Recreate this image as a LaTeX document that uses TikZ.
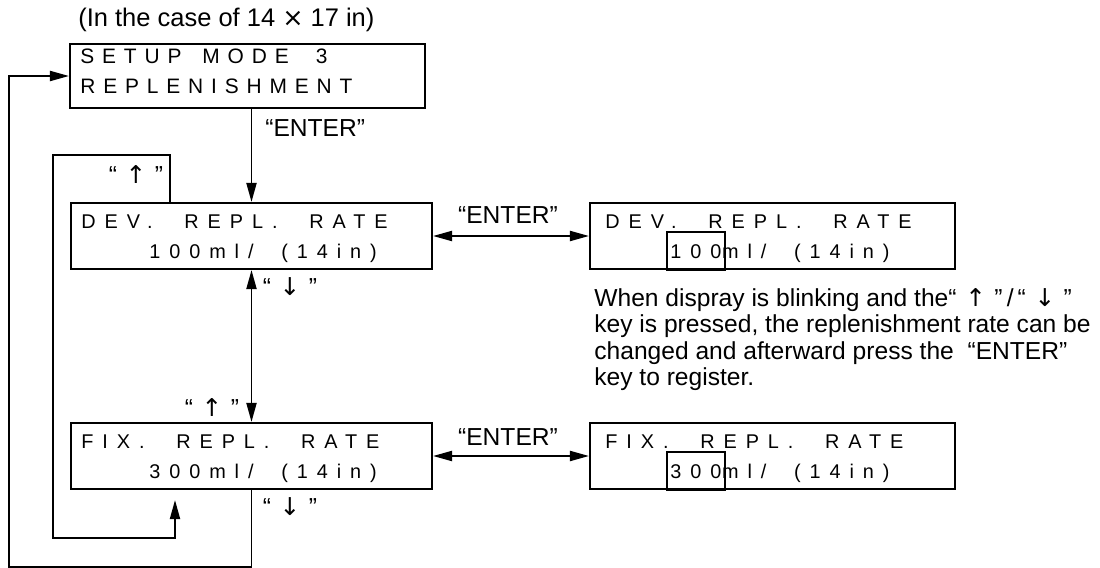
\documentclass[tikz,border=0pt]{standalone}
\usepackage{fontspec}
\setmainfont{Liberation Sans}
\newfontfamily\setupfont[LetterSpace=37.6]{Liberation Sans}
\newfontfamily\lcdfont[LetterSpace=45]{Liberation Sans}
\newfontfamily\arrowfont{DejaVu Sans}
\newcommand\upkey{“\hspace{0.35em}{\arrowfont ↑}\hspace{0.35em}”}
\newcommand\downkey{“\hspace{0.35em}{\arrowfont ↓}\hspace{0.35em}”}
\newcommand\wgap[1]{\hspace{#1em}}
\usetikzlibrary{arrows.meta}

\tikzset{
	lcdbox/.style={draw,line width=1.2pt,inner sep=0,minimum height=1.32cm},
	lcd/.style={font=\lcdfont\fontsize{11.3}{12}\selectfont,inner sep=0,anchor=base west},
	big lcd/.style={font=\setupfont\fontsize{11.9}{13}\selectfont,inner sep=0,anchor=base west},
	keylabel/.style={font=\fontsize{14}{15}\selectfont,inner sep=0},
	link/.style={line width=1.1pt,-{Triangle[length=0.38cm,width=0.2cm]}},
	both/.style={line width=1.1pt,{Triangle[length=0.38cm,width=0.2cm]}-{Triangle[length=0.38cm,width=0.2cm]}}
}

\begin{document}
\begin{tikzpicture}[x=0.02cm,y=-0.02cm]

	\useasboundingbox (0,0) rectangle (1100,568);

	\node[keylabel,anchor=base west,font=\fontsize{14.5}{16}\selectfont] (title) at (78,27) {(In the case of 14 {\arrowfont ×} 17 in)};

	% display boxes
	\node[lcdbox,minimum width=7.1cm,minimum height=1.28cm] (setup) at (247.5,76) {};
	\node[lcdbox,minimum width=7.22cm] (dev) at (251.5,236) {};
	\node[lcdbox,minimum width=7.22cm] (fix) at (251.5,456) {};
	\node[lcdbox,minimum width=7.3cm] (devset) at (772.5,236) {};
	\node[lcdbox,minimum width=7.3cm] (fixset) at (772.5,456) {};

	\node[big lcd] (setup1) at (80,63) {SETUP\wgap{1.0}MODE\wgap{1.3}3};
	\node[big lcd] (setup2) at (80,93) {REPLENISHMENT};

	\node[lcd] (dev1) at (81,228) {DEV.\wgap{1.6}REPL.\wgap{1.6}RATE};
	\node[lcd] (dev2) at (149,258) {100ml/\wgap{1.4}(14in)};
	\node[lcd] (fix1) at (81,448) {FIX.\wgap{1.6}REPL.\wgap{1.6}RATE};
	\node[lcd] (fix2) at (149,478) {300ml/\wgap{1.4}(14in)};

	\node[lcd] (devset1) at (605,228) {DEV.\wgap{1.6}REPL.\wgap{1.6}RATE};
	\node[lcd,inner xsep=0.06cm,inner ysep=0.24cm] (devnum) at (667,258) {100};
	\node[lcd] (devset2) at ([xshift=-0.06cm]devnum.base east) {ml/\wgap{1.4}(14in)};
	\draw[line width=1.2pt] (devnum.north west) rectangle (devnum.east |- devset.south);

	\node[lcd] (fixset1) at (605,448) {FIX.\wgap{1.6}REPL.\wgap{1.6}RATE};
	\node[lcd,inner xsep=0.06cm,inner ysep=0.24cm] (fixnum) at (667,478) {300};
	\node[lcd] (fixset2) at ([xshift=-0.06cm]fixnum.base east) {ml/\wgap{1.4}(14in)};
	\draw[line width=1.2pt] (fixnum.north west) rectangle (fixnum.east |- fixset.south);

	% key labels
	\node[keylabel,anchor=west] (enter0) at (265,128) {“ENTER”};
	\node[keylabel] (enter1) at (508,215) {“ENTER”};
	\node[keylabel] (enter2) at (508,437) {“ENTER”};
	\node[keylabel] (up1) at (136,174) {\upkey};
	\node[keylabel] (down1) at (290,287) {\downkey};
	\node[keylabel] (up2) at (212,407) {\upkey};
	\node[keylabel] (down2) at (290,507) {\downkey};

	\node[keylabel,anchor=north west,align=left,font=\fontsize{14}{15.1}\selectfont] (note) at (594,288)
		{When dispray is blinking and the\upkey\,/\,\downkey\\
		key is pressed, the replenishment rate can be\\
		changed and afterward press the \ “ENTER”\\
		key to register.};

	% connectors
	\coordinate (inTop) at (53,155);
	\coordinate (inBot) at (175,538);
	\coordinate (outBot) at (9,567);

	\draw[link] (dev.north |- setup.south) -- (dev.north);
	\draw[both] (dev.south) -- (fix.north);
	\draw[both] (dev.east) -- (devset.west);
	\draw[both] (fix.east) -- (fixset.west);
	\draw[link,shorten >=0.2cm] ([xshift=-1.63cm]dev.north) |- (inTop) |- (inBot) -- (inBot |- fix.south);
	\draw[link] (fix.south) |- (outBot) |- (setup.west);

\end{tikzpicture}
\end{document}
